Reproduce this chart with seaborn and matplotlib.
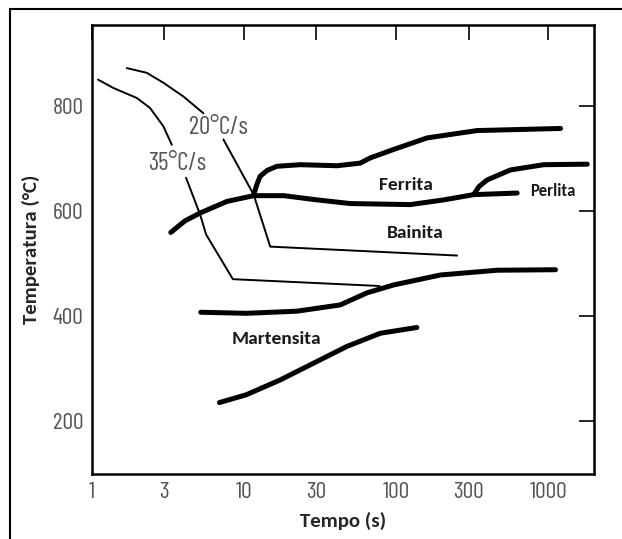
import matplotlib
matplotlib.use("Agg")
import matplotlib.pyplot as plt
from matplotlib.lines import Line2D
import seaborn as sns

# curvas de arrefecimento (tempo em s, temperatura em °C)
cool35_a_t = [1.1, 1.39, 1.98, 2.42, 2.96, 3.36]
cool35_a_T = [851, 835, 816, 797, 762, 727]
cool35_b_t = [4.17, 5.16, 5.65, 8.47, 78]
cool35_b_T = [664, 594, 556, 471, 458]

cool20_a_t = [1.7, 2.3, 2.96, 4.0, 5.42]
cool20_a_T = [873, 864, 845, 819, 787]
cool20_b_t = [7.34, 11.6, 14.9, 252]
cool20_b_T = [737, 632, 533, 516]

# linhas de transformação
ferrite_start_t = [11.6, 12.2, 12.8, 14.2, 16.5, 23.5, 40.9, 58.2, 67.8, 96.4, 160, 341, 1205]
ferrite_start_T = [632, 652, 667, 678, 686, 689, 687, 692, 702, 718, 740, 754, 758]

ferrite_end_t = [3.31, 4.1, 5.16, 7.73, 11.6, 18.3, 30.2, 50, 124, 206, 324, 625]
ferrite_end_T = [560, 582, 597, 619, 630, 630, 622, 615, 613, 622, 632, 635]

pearlite_start_t = [324, 350, 397, 565, 935, 1806]
pearlite_start_T = [632, 647, 660, 679, 689, 690]

bainite_end_t = [5.21, 10.4, 22.3, 43, 64.5, 96.4, 196, 462, 1117]
bainite_end_T = [408, 406, 410, 422, 445, 460, 479, 488, 489]

martensite_t = [6.91, 10.4, 17.3, 28.7, 47.6, 78.8, 137]
martensite_T = [236, 251, 279, 311, 343, 368, 379]

# rótulos das fases
phase_names = ["Ferrita", "Bainita", "Perlita", "Martensita"]
phase_t = [117, 133, 1076, 16.4]
phase_T = [651, 559, 638, 357]
phase_size = [14, 14, 12, 14]

rate_names = ["20°C/s", "35°C/s"]
rate_t = [6.76, 3.64]
rate_T = [759, 692]

xticks = [1, 3, 10, 30, 100, 300, 1000]
yticks = [200, 400, 600, 800]

sns.set_style("white")
num_font = ["Barlow Condensed", "DejaVu Sans"]
bold_font = ["Carlito", "Lato", "DejaVu Sans"]
plt.rcParams["font.family"] = num_font

fig = plt.figure(figsize=(6.22, 5.39), dpi=100)
ax = fig.add_axes([0.1474, 0.1206, 0.8076, 0.833])

thin = 1.4
thick = 3.6
for t, T in [(cool35_a_t, cool35_a_T), (cool35_b_t, cool35_b_T),
             (cool20_a_t, cool20_a_T), (cool20_b_t, cool20_b_T)]:
    sns.lineplot(x=t, y=T, sort=False, estimator=None, color="black",
                 lw=thin, ax=ax)

for t, T in [(ferrite_start_t, ferrite_start_T), (ferrite_end_t, ferrite_end_T),
             (pearlite_start_t, pearlite_start_T), (bainite_end_t, bainite_end_T),
             (martensite_t, martensite_T)]:
    sns.lineplot(x=t, y=T, sort=False, estimator=None, color="black",
                 lw=thick, ax=ax, solid_capstyle="round", solid_joinstyle="round")

ax.set_xscale("log")
ax.set_xlim(1, 2000)
ax.set_ylim(100, 955)
ax.set_xticks(xticks)
ax.set_xticklabels([str(v) for v in xticks])
ax.minorticks_off()
ax.set_yticks(yticks)
ax.tick_params(direction="in", length=10.5, width=1.4, top=True, right=True,
               labelsize=17, labelcolor="#555555", pad=6)
for s in ax.spines.values():
    s.set_linewidth(1.8)
    s.set_color("black")

ax.set_xlabel("Tempo (s)", family=bold_font, weight="bold", fontsize=15,
              labelpad=6)
ax.set_ylabel("Temperatura (°C)", family=bold_font, weight="bold", fontsize=15,
              labelpad=9)

for name, t, T, fs in zip(phase_names, phase_t, phase_T, phase_size):
    ax.text(t, T, name, family=bold_font, weight="bold", fontsize=fs,
            ha="center", va="center", color="#1a1a1a")
for name, t, T in zip(rate_names, rate_t, rate_T):
    ax.text(t, T, name, fontsize=18, ha="center", va="center", color="#555555")

# moldura da imagem (topo e esquerda)
fig.add_artist(Line2D([0.0161, 1.0], [0.9833, 0.9833], color="black", lw=1.5))
fig.add_artist(Line2D([0.0161, 0.0161], [0.0, 0.9833], color="black", lw=1.5))

fig.savefig("out.png", dpi=100)
